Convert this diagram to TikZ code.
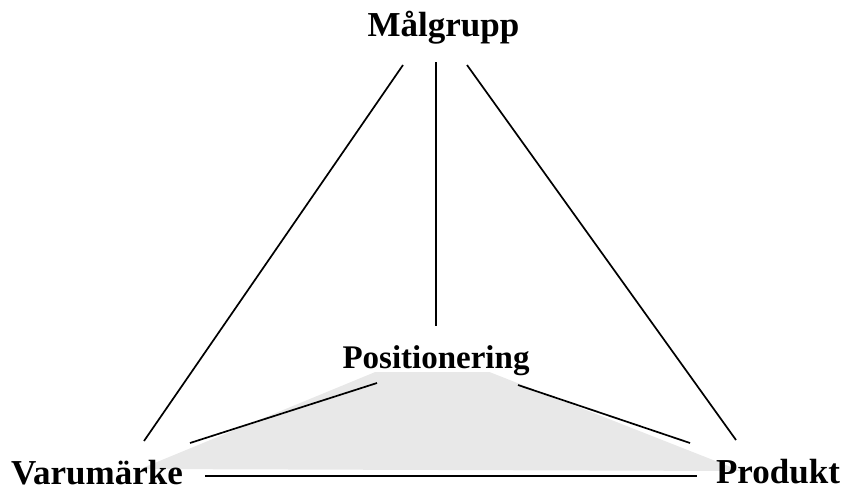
\documentclass[tikz,border=0pt]{standalone}
\usepackage{fontspec}
\setmainfont{Liberation Serif}
\begin{document}
\begin{tikzpicture}[x=1pt,y=-1pt,
  lbl/.style={font=\fontsize{35}{40}\selectfont\bfseries, inner sep=0pt, anchor=base},
  conn/.style={line width=1.7pt}]
\useasboundingbox (0,0) rectangle (843,490);
% gray area
\fill[gray!18] (140,469) -- (431,349) -- (741,471) -- cycle;
% labels
\node[lbl] (mal) at (443.5,36) {Målgrupp};
\fill[white] (340,340) rectangle (532,372);
\node[lbl, font=\fontsize{33}{38}\selectfont\bfseries] (pos) at (436,368) {Positionering};
\node[lbl] (var) at (97,484) {Varumärke};
\node[lbl] (pro) at (778,483) {Produkt};
% connector end points
\coordinate (mL) at (403,65);
\coordinate (mC) at (436,62);
\coordinate (mR) at (467,65);
\coordinate (vT) at (144,441);
\coordinate (pT) at (736,440);
\coordinate (pC) at (436,326);
\coordinate (pL) at (377,383);
\coordinate (pR) at (518,385);
\coordinate (vR) at (190,443);
\coordinate (rL) at (690,443);
\coordinate (vB) at (205,476);
\coordinate (rB) at (697,476);
\draw[conn] (mL) -- (vT);
\draw[conn] (mC) -- (pC);
\draw[conn] (mR) -- (pT);
\draw[conn] (pL) -- (vR);
\draw[conn] (pR) -- (rL);
\draw[conn] (vB) -- (rB);
\end{tikzpicture}
\end{document}
